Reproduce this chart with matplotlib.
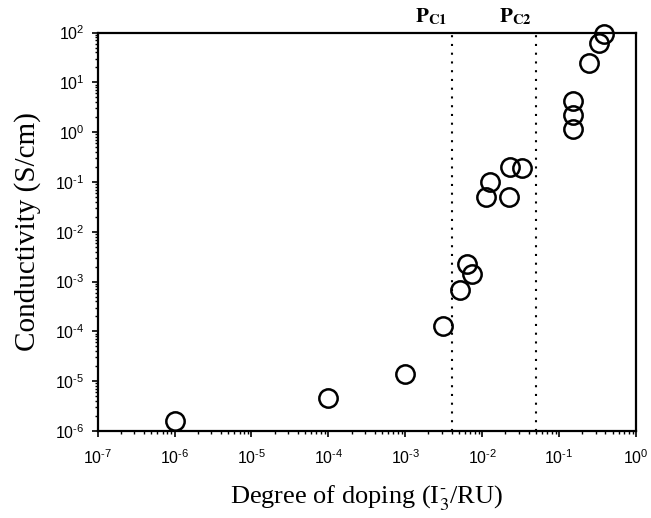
import matplotlib

matplotlib.use("Agg")

import matplotlib.pyplot as plt
from matplotlib.ticker import FuncFormatter, LogLocator, NullFormatter
from matplotlib.transforms import offset_copy
import numpy as np

# degree of doping (I3-/RU) and conductivity (S/cm)
doping = [1e-6, 1e-4, 1e-3, 3.1e-3, 5.2e-3, 6.4e-3, 7.4e-3, 1.11e-2, 1.26e-2,
          2.2e-2, 2.3e-2, 3.3e-2, 0.151, 0.151, 0.151, 0.243, 0.327, 0.38]
conductivity = [1.6e-6, 4.5e-6, 1.4e-5, 1.28e-4, 6.8e-4, 2.3e-3, 1.4e-3, 0.051, 0.10,
                0.051, 0.20, 0.19, 4.3, 2.2, 1.14, 25, 61, 92]

# percolation thresholds
thresholds = [0.004, 0.05]
threshold_labels = [r"$\mathbf{P}_{\mathbf{C1}}$", r"$\mathbf{P}_{\mathbf{C2}}$"]

plt.rcParams["font.family"] = ["Liberation Serif", "DejaVu Serif"]
plt.rcParams["mathtext.fontset"] = "stix"
plt.rcParams["axes.unicode_minus"] = False


def decade_label(value, pos):
    exp = int(round(np.log10(value)))
    if exp < 0:
        return r"$\mathdefault{10^{\text{-}%d}}$" % (-exp)
    return r"$\mathdefault{10^{%d}}$" % exp


fig = plt.figure(figsize=(6.51, 5.18), dpi=100)
ax = fig.add_axes([0.150, 0.168, 0.827, 0.769])

ax.plot(doping, conductivity, linestyle="none", marker="o", markersize=13.2,
        markerfacecolor="none", markeredgecolor="black", markeredgewidth=1.8,
        clip_on=False, zorder=3)

label_tr = offset_copy(ax.get_xaxis_transform(), fig=fig, x=-3, y=4, units="points")
for xv, lab in zip(thresholds, threshold_labels):
    ax.axvline(xv, color="black", linewidth=1.5, linestyle=(0, (1, 3.2)))
    ax.text(xv, 1.0, lab, transform=label_tr, ha="right", va="bottom",
            fontsize=15, color="black")

ax.set_xscale("log")
ax.set_yscale("log")
ax.set_xlim(1e-7, 1)
ax.set_ylim(1e-6, 1e2)

for axis in (ax.xaxis, ax.yaxis):
    axis.set_major_locator(LogLocator(base=10, numticks=20))
    axis.set_major_formatter(FuncFormatter(decade_label))
    axis.set_minor_locator(LogLocator(base=10, subs=range(2, 10), numticks=20))
    axis.set_minor_formatter(NullFormatter())

ax.tick_params(which="major", direction="out", length=4.5, width=1.2,
               labelsize=11.5, labelfontfamily="Liberation Sans")
ax.tick_params(which="minor", direction="out", length=2.5, width=1.0)
ax.tick_params(axis="x", which="major", pad=8)
ax.tick_params(axis="y", which="major", pad=5)

for side in ("left", "bottom", "top", "right"):
    ax.spines[side].set_linewidth(1.6)

ax.set_xlabel(r"Degree of doping (I$_3^{\text{-}}$/RU)", fontsize=19, labelpad=12)
ax.set_ylabel("Conductivity (S/cm)", fontsize=21, labelpad=10)

fig.savefig("out.png", dpi=100, facecolor="white")
plt.close(fig)
